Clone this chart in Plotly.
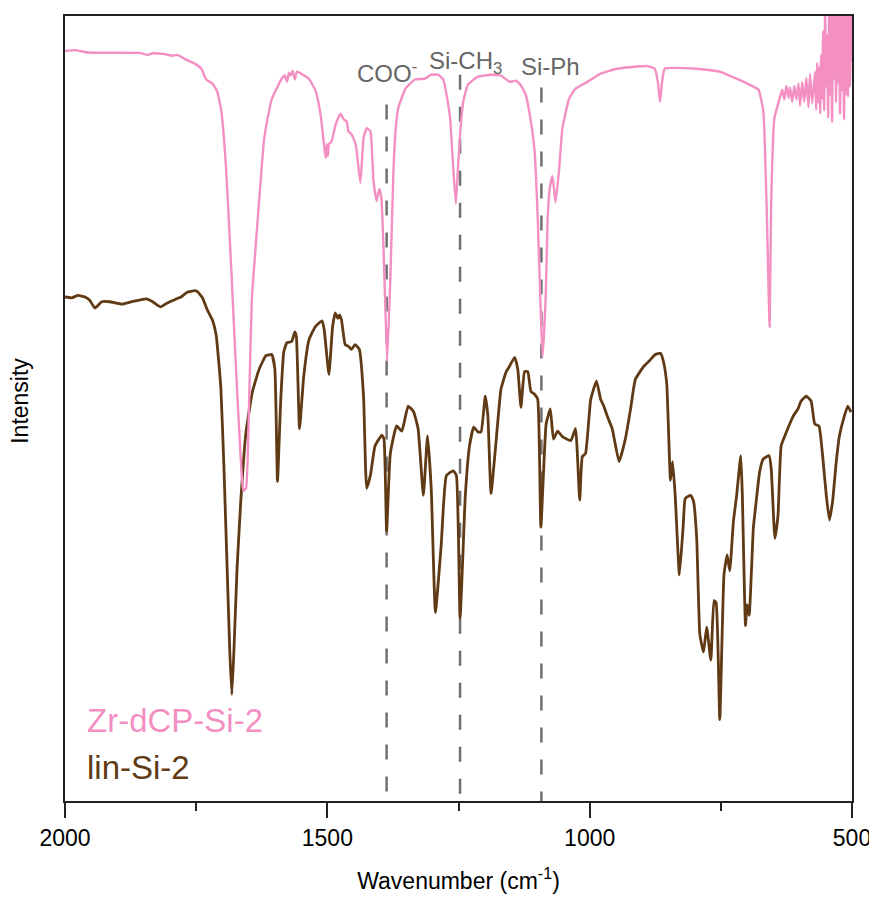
import plotly.graph_objects as go

# ---------------- data ----------------
wn_zr = [2000, 1981, 1956, 1858, 1843, 1833, 1810, 1795, 1786, 1772, 1753, 1740, 1731, 1719, 1710,
         1702, 1693, 1683, 1674, 1664, 1660, 1655, 1649, 1644, 1640, 1630, 1621, 1615, 1606, 1587,
         1581, 1577, 1573, 1570, 1566, 1562, 1558, 1549, 1535, 1522, 1513, 1507, 1505, 1503, 1501,
         1499, 1497, 1492, 1484, 1475, 1469, 1463, 1460, 1454, 1446, 1437, 1431, 1425, 1418, 1412,
         1406, 1401, 1397, 1391, 1386, 1380, 1374, 1370, 1365, 1351, 1333, 1314, 1302, 1289, 1279,
         1274, 1266, 1260, 1255, 1251, 1247, 1241, 1232, 1213, 1188, 1169, 1152, 1141, 1132, 1122,
         1113, 1105, 1099, 1094, 1090, 1084, 1080, 1076, 1071, 1065, 1058, 1052, 1039, 1027, 1004,
         980, 948, 891, 876, 870, 866, 862, 857, 796, 752, 720, 688, 678, 669, 663,
         657, 654, 648, 638, 633, 629, 625, 621, 618, 614, 610, 606, 602, 599, 595,
         591, 587, 583, 580, 576, 570.2, 568.3, 566.4, 564.5, 562.6, 560.7, 558.8, 556.9, 555.0,
         553.1, 551.2, 549.3, 547.4, 545.5, 543.6, 541.8, 539.9, 538.0, 536.1, 534.2, 532.3, 530.4,
         528.5, 526.6, 524.7, 522.8, 520.9, 519.0, 517.1, 515.2, 513.3, 511.4, 509.5, 507.6, 505.7,
         503.8, 501.9, 500.0]
int_zr = [94.5, 94.6, 94.3, 94.25, 94.0, 94.2, 94.1, 93.9, 94.0, 93.5, 92.9, 92.25, 90.9, 90.4, 89.4,
          86.9, 79.75, 66.9, 54.4, 41.9, 39.1, 39.4, 50.6, 63.1, 66.9, 75.6, 83.1, 85.6, 88.4, 91.0,
          91.4, 90.6, 91.75, 91.4, 92.0, 90.9, 91.9, 91.6, 91.0, 89.4, 86.5, 83.1, 81.9, 81.0, 82.75,
          81.25, 82.75, 83.1, 85.25, 86.6, 85.9, 85.6, 84.4, 84.0, 82.75, 77.9, 83.5, 84.75, 84.4, 78.1,
          75.6, 77.1, 76.0, 65.6, 55.4, 65.6, 79.4, 84.4, 87.25, 89.75, 90.9, 91.0, 91.5, 91.5, 90.9,
          89.4, 86.0, 79.75, 75.25, 79.75, 84.0, 88.1, 90.25, 91.25, 91.5, 91.4, 90.6, 90.75, 90.25, 89.0,
          86.0, 81.9, 73.5, 63.1, 55.9, 63.1, 73.5, 77.25, 78.75, 75.4, 79.75, 84.75, 88.5, 89.75, 90.6,
          91.6, 92.25, 92.6, 92.25, 90.6, 88.1, 90.6, 92.25, 92.25, 91.9, 91.0, 90.0, 89.6, 86.9, 75.6,
          59.75, 75.6, 86.0, 88.5, 89.6, 88.4, 90.1, 88.6, 89.9, 88.1, 90.1, 88.4, 90.4, 87.6, 90.6,
          88.1, 91.1, 87.4, 91.6, 87.9, 91.9, 87.1, 93.0, 88.0, 92.5, 86.6, 94.0, 88.5, 97.0,
          87.0, 99.5, 90.0, 96.5, 86.1, 99.5, 89.0, 99.5, 85.6, 99.5, 91.0, 99.5, 88.0,
          99.5, 90.5, 99.5, 86.6, 99.5, 89.5, 99.5, 85.9, 99.5, 89.0, 99.5, 88.7, 99.5,
          90.0, 99.5, 93.1]

wn_lin = [2000, 1987, 1975, 1962, 1953, 1943, 1930, 1915, 1892, 1873, 1858, 1845, 1833, 1818, 1805,
          1788, 1779, 1767, 1753, 1748, 1738, 1729, 1719, 1712, 1703, 1697, 1691, 1686, 1682, 1678,
          1672, 1665, 1659, 1655, 1643, 1630, 1617, 1606, 1600, 1595, 1589, 1583, 1577, 1568, 1562,
          1559, 1553, 1545, 1535, 1523, 1510, 1506, 1497, 1490, 1485, 1480, 1477, 1473, 1466, 1460,
          1454, 1447, 1439, 1431, 1425, 1418, 1409, 1396, 1392, 1387, 1380, 1368, 1358, 1346, 1336,
          1327, 1317, 1309, 1302, 1294, 1283, 1273, 1260, 1254, 1247, 1237, 1229, 1221, 1213, 1207,
          1199, 1194, 1188, 1178, 1169, 1159, 1153, 1143, 1137, 1131, 1124, 1118, 1112, 1105, 1099,
          1093, 1083, 1075, 1069, 1061, 1052, 1036, 1027, 1019, 1014, 1008, 998, 987, 979, 973,
          966, 957, 944, 932, 922, 913, 897, 887, 875, 865, 859, 853, 846, 842, 837,
          829, 822, 818, 812, 807, 802, 796, 790, 783, 777, 769, 763, 759, 752, 744,
          738, 733, 726, 720, 712, 709, 703, 700, 696, 688, 682, 676, 669, 658, 654,
          647, 641, 635, 625, 612, 603, 597, 587, 578, 571, 563, 556, 549, 543, 537,
          530, 524, 515, 508, 502]
int_lin = [63.5, 63.4, 63.7, 63.5, 63.1, 62.1, 62.9, 62.9, 62.6, 62.9, 63.1, 63.25, 62.9, 62.25, 62.75,
           63.25, 63.5, 64.1, 64.3, 64.2, 63.4, 61.9, 60.6, 58.75, 52.1, 41.9, 29.4, 19.0, 13.4, 19.0,
           29.4, 37.75, 43.5, 46.5, 51.5, 54.4, 56.1, 56.25, 54.4, 40.25, 50.25, 56.6, 57.75, 57.9, 59.1,
           58.5, 46.9, 53.5, 58.1, 59.75, 60.5, 59.4, 53.75, 59.75, 61.5, 60.8, 61.25, 60.6, 57.5, 57.3,
           56.9, 57.5, 56.9, 51.0, 39.4, 41.0, 44.75, 46.1, 45.6, 34.0, 43.75, 47.25, 46.6, 49.75, 49.1,
           46.9, 38.5, 46.0, 39.4, 23.75, 32.25, 41.0, 41.6, 41.0, 23.0, 38.5, 44.75, 47.1, 46.5, 46.5,
           51.0, 48.5, 38.75, 45.6, 51.9, 54.1, 54.75, 55.9, 54.4, 49.6, 54.1, 54.1, 51.6, 51.25, 50.6,
           34.5, 47.5, 49.4, 45.6, 46.6, 45.9, 45.4, 46.9, 37.9, 43.4, 43.75, 50.6, 52.9, 50.6, 49.75,
           48.4, 46.9, 42.75, 45.6, 49.4, 53.1, 54.75, 55.4, 56.25, 56.4, 55.25, 52.5, 40.4, 42.75, 38.5,
           28.5, 34.4, 38.1, 38.4, 38.5, 37.75, 33.1, 21.0, 18.75, 21.9, 17.75, 25.25, 25.0, 10.25, 28.5,
           31.0, 29.0, 35.25, 38.4, 43.5, 38.5, 22.1, 24.75, 23.4, 34.4, 38.1, 41.5, 43.1, 43.5, 41.9,
           33.1, 36.0, 44.75, 46.5, 48.5, 49.4, 50.4, 51.0, 50.4, 47.5, 47.25, 43.5, 38.5, 35.4, 37.75,
           42.75, 46.0, 48.4, 49.75, 49.0]

series_names = ["Zr-dCP-Si-2", "lin-Si-2"]
series_colors = ["#F38FC3", "#603A14"]

band_labels = ["COO<sup>-</sup>", "Si-CH<sub>3</sub>", "Si-Ph"]
band_positions = [1387, 1247, 1092]          # dashed marker lines (cm-1)
band_line_top = [87.75, 91.5, 89.9]          # where each dashed line starts
band_label_x = [1387, 1236, 1075]
band_label_y = [91.9, 93.1, 92.6]

x_ticks = [2000, 1500, 1000, 500]
x_tick_text = ["2000", "1500", "1000", "500"]

FONT = "Liberation Sans, Arial, Helvetica, sans-serif"

fig = go.Figure()
fig.add_trace(go.Scatter(x=wn_lin, y=int_lin, mode="lines", name=series_names[1],
                         line=dict(color=series_colors[1], width=2.8, shape="spline", smoothing=0.4),
                         showlegend=False))
fig.add_trace(go.Scatter(x=wn_zr, y=int_zr, mode="lines", name=series_names[0],
                         line=dict(color=series_colors[0], width=2.4, shape="spline", smoothing=0.4),
                         showlegend=False))

for xpos, ytop in zip(band_positions, band_line_top):
    fig.add_shape(type="line", xref="x", yref="y", x0=xpos, x1=xpos, y0=ytop, y1=0,
                  line=dict(color="#707070", width=2.5, dash="15px,17px"), layer="below")

for lab, lx, ly in zip(band_labels, band_label_x, band_label_y):
    fig.add_annotation(x=lx, y=ly, xref="x", yref="y", text=lab, showarrow=False,
                       xanchor="center", yanchor="middle",
                       font=dict(family=FONT, size=24, color="#666666"))

# legend-like labels
fig.add_annotation(x=0.025, y=0.1024, xref="paper", yref="paper", text=series_names[0],
                   showarrow=False, xanchor="left", yanchor="middle",
                   font=dict(family=FONT, size=33, color=series_colors[0]))
fig.add_annotation(x=0.025, y=0.043, xref="paper", yref="paper", text=series_names[1],
                   showarrow=False, xanchor="left", yanchor="middle",
                   font=dict(family=FONT, size=33, color=series_colors[1]))

# y-axis title
fig.add_annotation(x=-0.057, y=0.51, xref="paper", yref="paper", text="Intensity",
                   showarrow=False, textangle=-90, xanchor="center", yanchor="middle",
                   font=dict(family=FONT, size=23, color="black"))

# the page body keeps its default 8px margin: 8 + 869 <= 877 and 8 + 888 + 8 = 904
fig.update_layout(
    width=869, height=888,
    margin=dict(l=57, r=21, t=6, b=91),
    paper_bgcolor="white", plot_bgcolor="white",
    font=dict(family=FONT, size=23, color="black"),
    showlegend=False,
)
fig.update_xaxes(range=[2000, 500], tickvals=x_ticks, ticktext=x_tick_text,
                 ticks="outside", ticklen=15, tickwidth=2, tickcolor="#222",
                 ticklabeloverflow="allow",
                 minor=dict(dtick=250, tick0=500, ticks="outside", ticklen=8, tickwidth=2, tickcolor="#222"),
                 showline=True, linecolor="#222", linewidth=2, mirror=True,
                 showgrid=False, zeroline=False,
                 tickfont=dict(family=FONT, size=23, color="black"),
                 title=dict(text="Wavenumber (cm<sup>-1</sup>)", standoff=23,
                            font=dict(family=FONT, size=23, color="black")))
fig.update_yaxes(range=[0, 98.9], showticklabels=False, ticks="",
                 showline=True, linecolor="#222", linewidth=2, mirror=True,
                 showgrid=False, zeroline=False)

fig.write_html("out.html", config={"displayModeBar": False})
